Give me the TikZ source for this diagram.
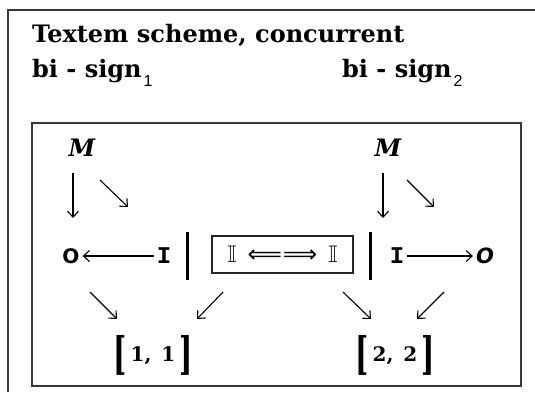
\documentclass[tikz,border=0pt]{standalone}
\usepackage{fontspec}
\usepackage{amssymb}
\usepackage{graphicx}
\usetikzlibrary{arrows.meta}
\setmainfont{DejaVu Serif}
\newfontfamily\monofont{Liberation Mono}
\newfontfamily\sansfont{DejaVu Sans}
\newfontfamily\subfont{Liberation Sans}
% tall square brackets around the index pairs
\newcommand{\lbrk}{\raisebox{-8pt}{\scalebox{1}[1.6]{\fontsize{28}{28}\selectfont[}}}
\newcommand{\rbrk}{\raisebox{-8pt}{\scalebox{1}[1.6]{\fontsize{28}{28}\selectfont]}}}
\newcommand{\idx}[1]{\kern2pt\raisebox{-9pt}{\subfont\mdseries\fontsize{16}{16}\selectfont #1}}
\begin{document}
\begin{tikzpicture}[x=1pt,y=-1pt,
  frame/.style={draw=black!78, line width=1.7pt},
  arr/.style={-{Straight Barb[length=6pt,width=11pt]}, line width=1.1pt},
  sepbar/.style={line width=3pt},
  head/.style={inner sep=0pt, anchor=base west, font=\fontsize{24}{28}\selectfont\bfseries},
  sym/.style={inner sep=3pt},
  pair/.style={inner sep=0pt, font=\fontsize{20}{20}\selectfont\bfseries}]
\useasboundingbox (0,0) rectangle (535,392);
\fill[white] (0,0) rectangle (535,392);

% outer frame (open to the right and bottom)
\draw[frame] (8,392) -- (8,10) -- (535,10);
% inner frame
\draw[frame] (32,123) rectangle (521,386);

% heading
\node[head] (title) at (32,42) {Textem scheme, concurrent};
\node[head] (sign1) at (32,77) {bi - sign\idx{1}};
\node[head] (sign2) at (342,77) {bi - sign\idx{2}};

% first bi-sign
\node[sym, font=\fontsize{24}{24}\selectfont\bfseries\itshape] (M1) at (82,148) {M};
\node[sym, font=\sansfont\fontsize{20}{20}\selectfont\bfseries] (O1) at (71,256) {O};
\node[sym, font=\monofont\fontsize{24}{24}\selectfont\bfseries] (I1) at (164,256) {I};
\node[pair] (B1) at (153,355) {\lbrk\kern4pt 1,\kern10pt 1\kern4pt\rbrk};

% second bi-sign
\node[sym, font=\fontsize{24}{24}\selectfont\bfseries\itshape] (M2) at (388,148) {M};
\node[sym, font=\monofont\fontsize{24}{24}\selectfont\bfseries] (I2) at (397,256) {I};
\node[sym, font=\sansfont\fontsize{21}{21}\selectfont\bfseries\itshape] (O2) at (485,256) {O};
\node[pair] (B2) at (395,355) {\lbrk\kern4pt 2,\kern10pt 2\kern4pt\rbrk};

% concurrency link between the two signs
\node[draw=black!85, line width=1.2pt, minimum width=141pt, minimum height=37pt,
      inner sep=0pt, font=\fontsize{24}{24}\selectfont] (link) at (282.5,254.5)
  {$\mathbb{I}$\kern11pt{\sansfont\fontsize{24}{24}\selectfont ⟸\kern1pt⟹}\kern11pt$\mathbb{I}$};

% separator bars
\draw[sepbar] (187,232) -- (187,280);
\draw[sepbar] (370,232) -- (370,280);

% arrow end points
\coordinate (d1s) at (73,173);  \coordinate (d1e) at (73,218);
\coordinate (e1s) at (100,180); \coordinate (e1e) at (128,207);
\coordinate (f1s) at (90,292);  \coordinate (f1e) at (117,319);
\coordinate (g1s) at (223,292); \coordinate (g1e) at (197,319);
\coordinate (d2s) at (383,173); \coordinate (d2e) at (383,218);
\coordinate (e2s) at (407,180); \coordinate (e2e) at (434,207);
\coordinate (f2s) at (343,292); \coordinate (f2e) at (371,319);
\coordinate (g2s) at (444,292); \coordinate (g2e) at (417,319);

% arrows
\draw[arr] (d1s) -- (d1e);
\draw[arr] (e1s) -- (e1e);
\draw[arr] (I1.west) -- (O1.east);
\draw[arr] (f1s) -- (f1e);
\draw[arr] (g1s) -- (g1e);
\draw[arr] (d2s) -- (d2e);
\draw[arr] (e2s) -- (e2e);
\draw[arr] (I2.east) -- (O2.west);
\draw[arr] (f2s) -- (f2e);
\draw[arr] (g2s) -- (g2e);
\end{tikzpicture}
\end{document}
